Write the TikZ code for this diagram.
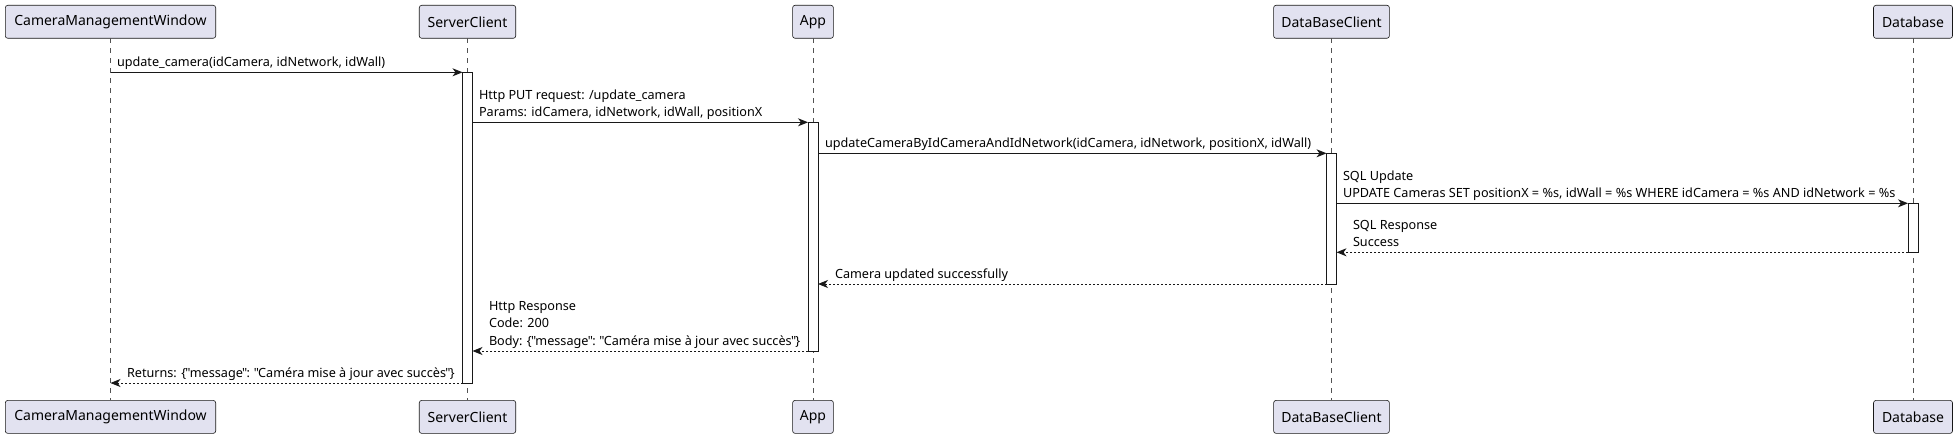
\documentclass[tikz,border=0pt]{standalone}
\usepackage{fontspec}
\newfontfamily\plfont{Noto Sans}
\usetikzlibrary{arrows.meta}
\definecolor{pfill}{HTML}{E2E2F0}
\definecolor{pline}{HTML}{181818}
\newcommand\myq{\kern-0.7pt"\kern-0.7pt}
\begin{document}
\begin{tikzpicture}[x=1pt,y=-1pt,
  part/.style={draw=pline, line width=0.6pt, fill=pfill, rounded corners=2.5pt, minimum height=33pt, inner sep=0pt, outer sep=0pt, font=\plfont\fontsize{14}{16}\selectfont, text=black},
  life/.style={draw=pline!75, line width=0.5pt, dash pattern=on 5pt off 5pt},
  act/.style={draw=pline, line width=0.9pt, fill=white, minimum width=10pt, inner sep=0pt, outer sep=0pt},
  msg/.style={draw=pline, line width=0.9pt, -{Stealth[length=10pt,width=8pt,inset=3pt]}},
  ret/.style={msg, dash pattern=on 2pt off 2pt},
  lbl/.style={font=\plfont\fontsize{12.65}{17.5}\selectfont, align=left, inner sep=0pt, outer sep=0pt, anchor=south west, text=black}
]
\useasboundingbox (0,0) rectangle (1956,438);
% participants
\node[part, minimum width=210.4pt] (cmwT) at (110.5,21.8) {CameraManagementWindow};
\node[part, minimum width=96.5pt]  (scT)  at (467.5,21.8) {ServerClient};
\node[part, minimum width=40.8pt]  (appT) at (813,21.8) {App};
\node[part, minimum width=115.8pt] (dbcT) at (1331.5,21.8) {DataBaseClient};
\node[part, minimum width=79pt]    (dbT)  at (1913,21.8) {Database};
\node[part, minimum width=210.4pt] (cmwB) at (110.5,416.9) {CameraManagementWindow};
\node[part, minimum width=96.5pt]  (scB)  at (467.5,416.9) {ServerClient};
\node[part, minimum width=40.8pt]  (appB) at (813,416.9) {App};
\node[part, minimum width=115.8pt] (dbcB) at (1331.5,416.9) {DataBaseClient};
\node[part, minimum width=79pt]    (dbB)  at (1913,416.9) {Database};
% lifelines
\draw[life] (cmwT) -- (cmwB);
\draw[life] (scT) -- (scB);
\draw[life] (appT) -- (appB);
\draw[life] (dbcT) -- (dbcB);
\draw[life] (dbT) -- (dbB);
% activations
\node[act, minimum height=310.7pt] (actSC)  at (467.5,227.65) {};
\node[act, minimum height=228.7pt] (actApp) at (813,236.65) {};
\node[act, minimum height=130.7pt] (actDBC) at (1331.5,218.65) {};
\node[act, minimum height=49pt]    (actDB)  at (1913,227.8) {};
% messages
\draw[msg] (cmwT.south |- actSC.north) -- (actSC.north west);
\draw[msg] (actSC.east |- actApp.north) -- (actApp.north west);
\draw[msg] (actApp.east |- actDBC.north) -- (actDBC.north west);
\draw[msg] (actDBC.east |- actDB.north) -- (actDB.north west);
\draw[ret] (actDB.south west) -- (actDBC.east |- actDB.south);
\draw[ret] (actDBC.south west) -- (actApp.east |- actDBC.south);
\draw[ret] (actApp.south west) -- (actSC.east |- actApp.south);
\draw[ret] (actSC.south west) -- (cmwT.south |- actSC.south);
% labels
\node[lbl] (l1) at (117,71.8) {update\_camera(idCamera, idNetwork, idWall)\strut};
\node[lbl] (l2) at (479,121.8) {Http PUT request: /update\_camera\strut\\Params: idCamera, idNetwork, idWall, positionX\strut};
\node[lbl] (l3) at (825,152.8) {updateCameraByIdCameraAndIdNetwork(idCamera, idNetwork, positionX, idWall)\strut};
\node[lbl] (l4) at (1343,202.8) {SQL Update\strut\\UPDATE Cameras SET positionX = \%s, idWall = \%s WHERE idCamera = \%s AND idNetwork = \%s\strut};
\node[lbl] (l5) at (1353,251.8) {SQL Response\strut\\Success\strut};
\node[lbl] (l6) at (835,283.5) {Camera updated successfully\strut};
\node[lbl] (l7) at (489,350.5) {Http Response\strut\\Code: 200\strut\\Body: \{\myq message\myq: \myq Caméra mise à jour avec succès\myq\}\strut};
\node[lbl] (l8) at (127,382.5) {Returns: \{\myq message\myq: \myq Caméra mise à jour avec succès\myq\}\strut};
\end{tikzpicture}
\end{document}
